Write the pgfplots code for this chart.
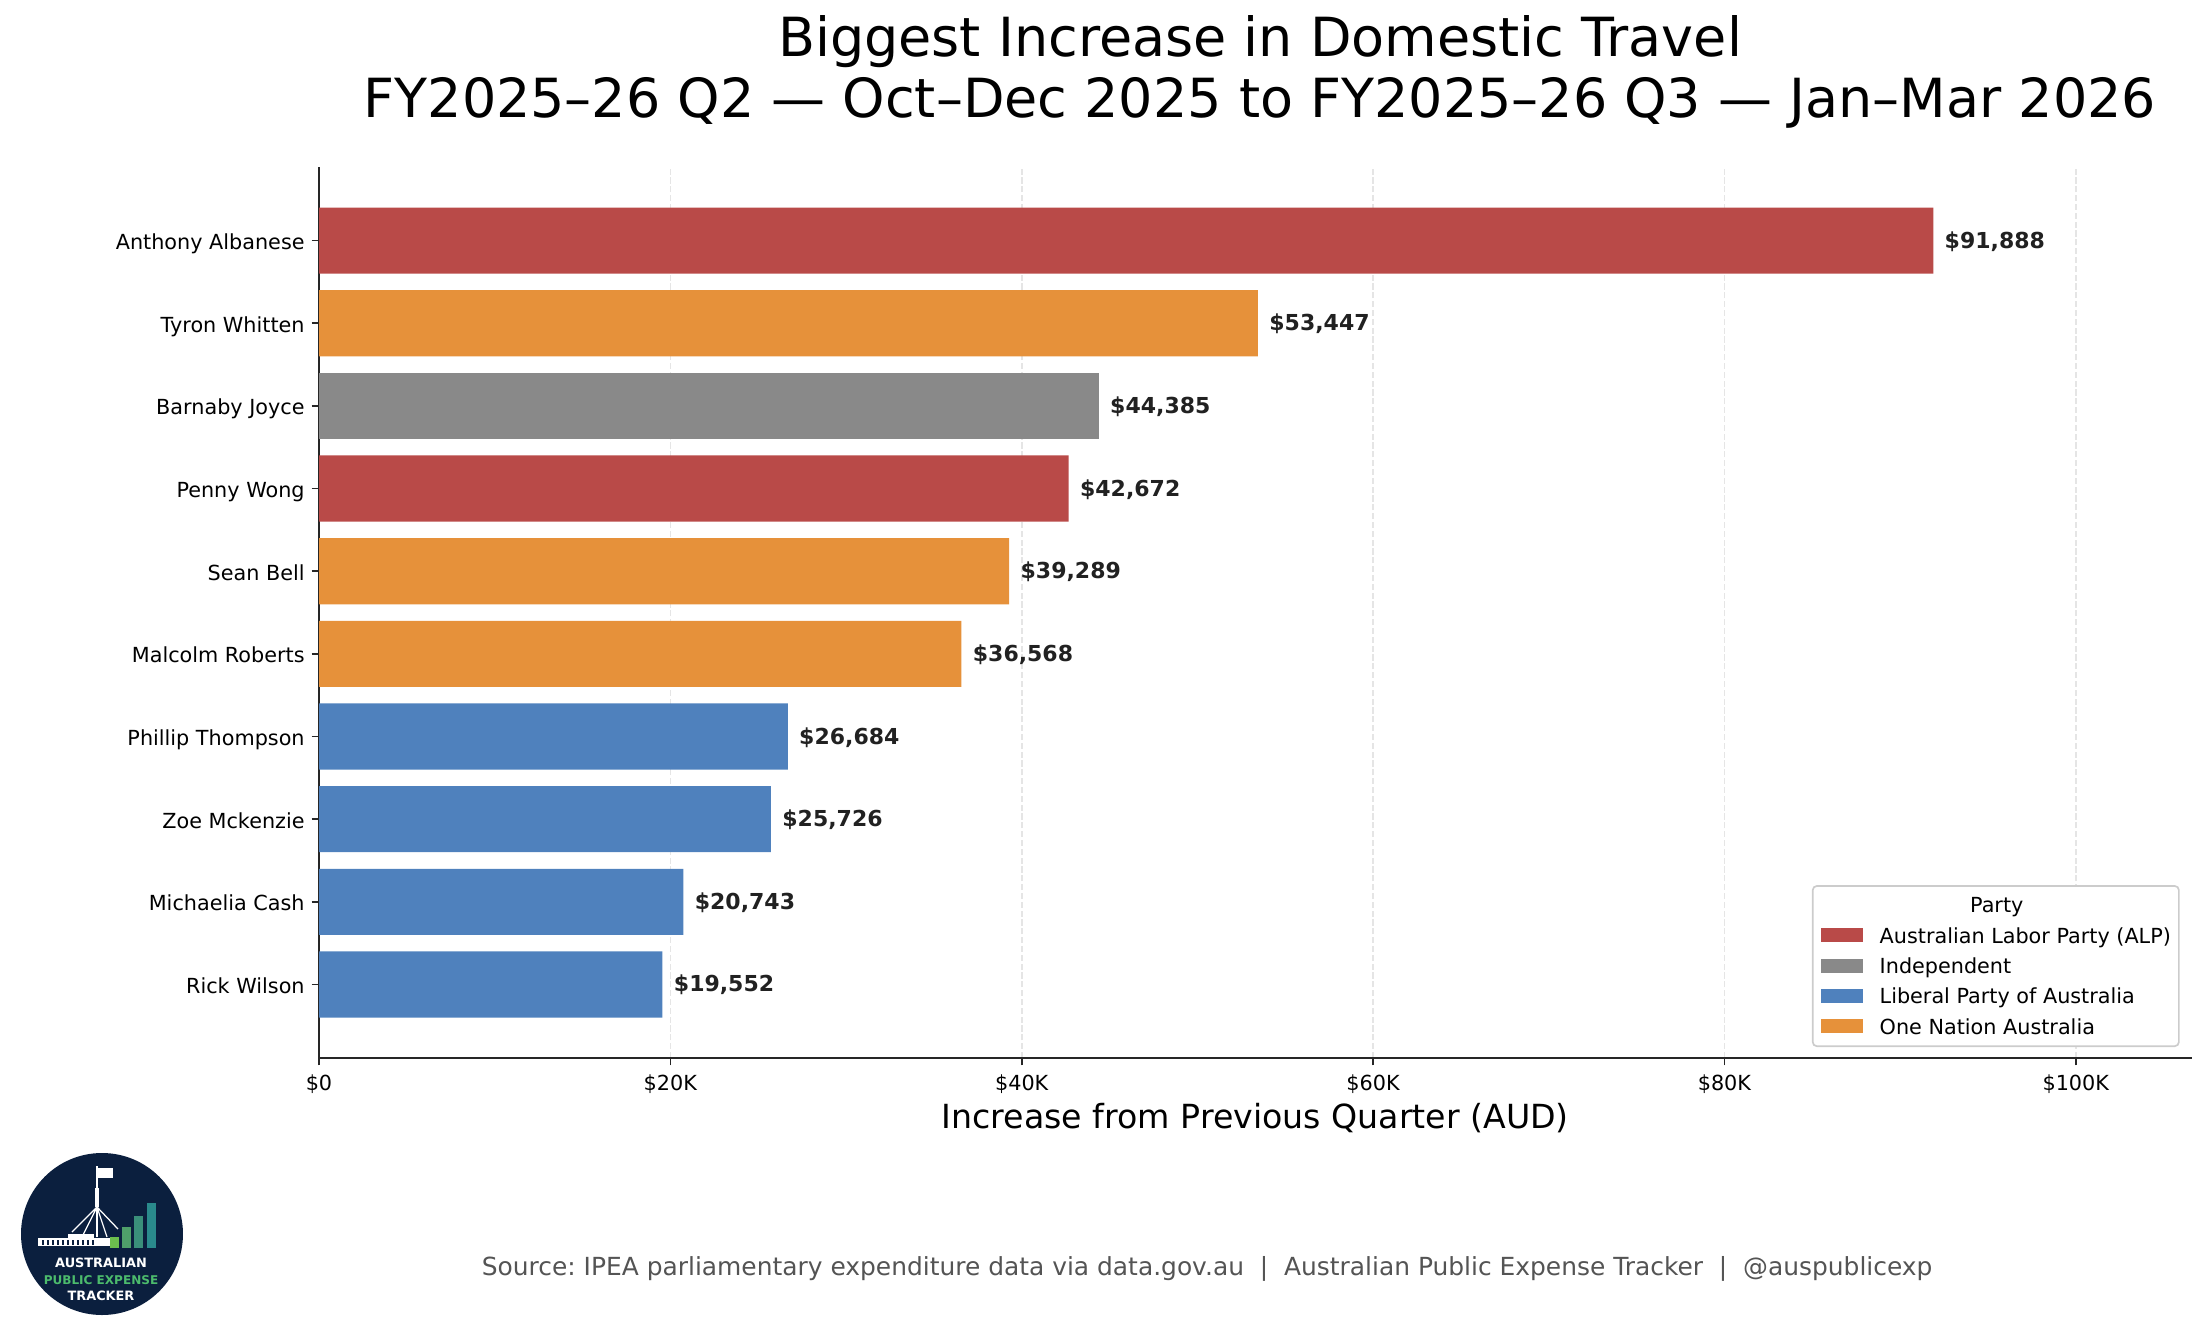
\documentclass[border=0pt]{standalone}
\usepackage{fontspec}
\setmainfont{DejaVu Sans}
\usepackage{pgfplots}
\pgfplotsset{compat=1.18}
\frenchspacing
\definecolor{alp}{HTML}{B94A48}
\definecolor{ind}{HTML}{898989}
\definecolor{lib}{HTML}{4F81BD}
\definecolor{onp}{HTML}{E6913A}
\definecolor{spine}{HTML}{262626}
\definecolor{navy}{HTML}{0B1F3E}
\definecolor{lgreen}{HTML}{4CBB6C}
\definecolor{lb1}{HTML}{6CBF4E}
\definecolor{lb2}{HTML}{4FA06A}
\definecolor{lb3}{HTML}{3A8F7A}
\definecolor{lb4}{HTML}{2A8A8C}
\begin{document}
\begin{tikzpicture}
\path[use as bounding box] (0,0) rectangle (1058.4bp,-641.76bp);
% title
\node[anchor=base, inner sep=0pt, font=\fontsize{26}{31}\selectfont] at (604.8bp,-26.9bp) {Biggest Increase in Domestic Travel};
\node[anchor=base, inner sep=0pt, font=\fontsize{26}{31}\selectfont] at (604.8bp,-56.2bp) {FY2025–26 Q2 — Oct–Dec 2025 to FY2025–26 Q3 — Jan–Mar 2026};
\begin{axis}[
  at={(153.12bp,-80.16bp)}, anchor=north west,
  scale only axis, width=898.9bp, height=427.7bp,
  xmin=0, xmax=106600, ymin=-0.89, ymax=9.89,
  xbar, bar width=0.8, bar shift=0pt,
  axis lines*=left,
  axis line style={line width=0.8bp, draw=spine},
  tick align=outside, major tick length=3.5bp,
  every tick/.style={line width=0.8bp, draw=spine},
  xtick={0,20000,40000,60000,80000,100000},
  xticklabels={\$0,\$20K,\$40K,\$60K,\$80K,\$100K},
  ytick={0,...,9},
  yticklabels={Rick Wilson,Michaelia Cash,Zoe Mckenzie,Phillip Thompson,Malcolm Roberts,Sean Bell,Penny Wong,Barnaby Joyce,Tyron Whitten,Anthony Albanese},
  ticklabel style={font=\fontsize{10}{12}\selectfont, inner sep=0pt},
  xticklabel style={anchor=base, yshift=-11.86bp},
  yticklabel style={anchor=base east, xshift=-3.22bp, yshift=-4.3bp},
  scaled x ticks=false,
  xmajorgrids,
  major grid style={line width=0.8bp, draw=black!10, dash pattern=on 2.96bp off 1.28bp},
  xlabel={Increase from Previous Quarter (AUD)},
  xlabel style={at={(axis description cs:0.5,0)}, anchor=base, yshift=-33.6bp, inner sep=0pt, font=\fontsize{16}{19}\selectfont},
  point meta=x,
  nodes near coords={\$\pgfmathprintnumber[fixed,precision=0,1000 sep={,},assume math mode=true]{\pgfplotspointmeta}},
  every node near coord/.append style={font=\bfseries\fontsize{10.6}{12}\selectfont, text=black!87, anchor=base west, inner sep=0pt, xshift=5.3bp, yshift=-3.6bp},
  legend image code/.code={\path (0bp,0bp) (28.32bp,0bp); \fill[#1, rounded corners=0pt] (0bp,0.48bp) rectangle (20.16bp,7.2bp);},
  legend entries={\hspace*{56.2bp}\makebox[0pt]{Party},Australian Labor Party (ALP),Independent,Liberal Party of Australia,One Nation Australia},
  legend style={at={(axis description cs:1,0)}, anchor=south east, xshift=-5.76bp, yshift=5.28bp,
    draw=black!20, line width=0.8bp, fill=white, rounded corners=2bp,
    inner xsep=3.84bp, inner ysep=3.26bp, row sep=2.35bp,
    font=\fontsize{10}{12}\selectfont,
    nodes={inner sep=0pt, text height=9.7bp, text depth=2.5bp},
    cells={anchor=base west}},
]
\addlegendimage{empty legend}
\addplot[fill=alp, draw=none] coordinates {(91888,9) (42672,6)};
\addplot[fill=ind, draw=none] coordinates {(44385,7)};
\addplot[fill=lib, draw=none] coordinates {(26684,3) (25726,2) (20743,1) (19552,0)};
\addplot[fill=onp, draw=none] coordinates {(53447,8) (39289,5) (36568,4)};
\end{axis}
% footer
\node[anchor=base, inner sep=0pt, text=black!67, font=\fontsize{12}{14}\selectfont] at (579.4bp,-612bp) {Source: IPEA parliamentary expenditure data via data.gov.au\ \ |\ \ Australian Public Expense Tracker\ \ |\ \ @auspublicexp};
% logo
\begin{scope}[shift={(48.96bp,-592.32bp)}, x=0.48bp, y=-0.48bp]
  \fill[navy] (0,0) circle[radius=81];
  \draw[white, line width=0.5bp] (-5,-68) -- (-5,3);
  \fill[white] (-7,-46) rectangle (-3,-27);
  \fill[white] (-4,-66) rectangle (11,-56);
  \draw[white, line width=0.6bp] (-5,-27) -- (-30,-2) (-5,-27) -- (-20,3) (-5,-27) -- (5,3) (-5,-27) -- (16,-5);
  \fill[white] (-64,4) rectangle (8,12);
  \fill[white] (-34,0) rectangle (-8,4);
  \foreach \xx in {-60,-55,...,-10} {\fill[navy] (\xx,6) rectangle (\xx+2,11);}
  \fill[lb1] (8,3) rectangle (17,14);
  \fill[lb2] (20,-7) rectangle (29,14);
  \fill[lb3] (32,-18) rectangle (41,14);
  \fill[lb4] (45,-31) rectangle (54,14);
  \node[anchor=base, inner sep=0pt, text=white, font=\bfseries\fontsize{6.2}{7}\selectfont] at (-1,33) {AUSTRALIAN};
  \node[anchor=base, inner sep=0pt, text=lgreen, font=\bfseries\fontsize{5.8}{7}\selectfont] at (-1,50) {PUBLIC EXPENSE};
  \node[anchor=base, inner sep=0pt, text=white, font=\bfseries\fontsize{6.2}{7}\selectfont] at (-1,66) {TRACKER};
\end{scope}
\end{tikzpicture}
\end{document}
